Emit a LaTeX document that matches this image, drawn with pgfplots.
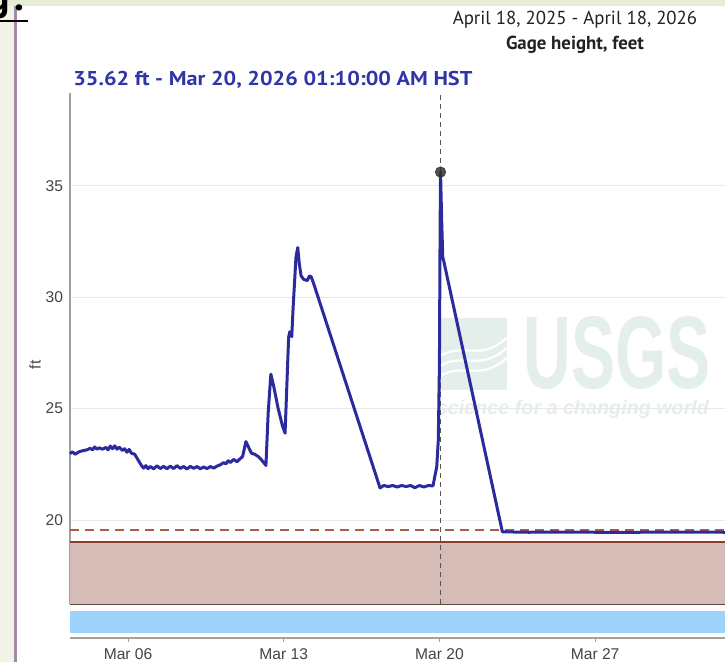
\documentclass[border=0pt]{standalone}
\usepackage{pgfplots}
\pgfplotsset{compat=1.18}
\usepackage{graphicx}
\usepackage{fontspec}
\setmainfont{PT Sans}
\newfontfamily\tickfont{Liberation Sans}
\definecolor{lineblue}{HTML}{2B2B9E}
\definecolor{titleblue}{HTML}{2E35A6}
\definecolor{brownfill}{HTML}{D6BCB7}
\definecolor{brownline}{HTML}{8E3B2C}
\definecolor{darkbrown}{HTML}{5E4842}
\definecolor{dashbrown}{HTML}{B05A48}
\definecolor{barblue}{HTML}{9ED3FB}
\definecolor{axisgray}{HTML}{A0A0A0}
\definecolor{gridgray}{HTML}{E8E8E8}
\definecolor{ticktext}{HTML}{444444}
\definecolor{vdash}{HTML}{555555}
\definecolor{markgray}{HTML}{333333}
\definecolor{leftgreen}{HTML}{F1F3E6}
\definecolor{topgreen}{HTML}{E6EDD5}
\definecolor{purpleline}{HTML}{A38AAA}
\definecolor{wm}{HTML}{E4EEEA}
\definecolor{hdr}{HTML}{222222}

\pgfplotstableread{
x y
3.39 22.98
3.50 23.06
3.62 22.95
3.75 23.04
3.85 23.08
4.00 23.12
4.15 23.15
4.30 23.22
4.40 23.15
4.50 23.28
4.60 23.18
4.70 23.24
4.85 23.18
5.00 23.26
5.10 23.15
5.20 23.32
5.30 23.20
5.40 23.33
5.50 23.18
5.60 23.27
5.75 23.12
5.85 23.20
5.95 23.04
6.05 23.17
6.15 23.00
6.30 22.95
6.45 22.70
6.60 22.45
6.70 22.33
6.80 22.44
6.90 22.30
7.00 22.40
7.15 22.30
7.30 22.43
7.45 22.31
7.60 22.41
7.75 22.30
7.90 22.42
8.05 22.31
8.20 22.44
8.35 22.32
8.50 22.40
8.65 22.29
8.80 22.41
8.95 22.32
9.10 22.40
9.25 22.30
9.40 22.38
9.55 22.31
9.70 22.40
9.85 22.33
10.00 22.42
10.15 22.48
10.30 22.58
10.40 22.52
10.50 22.66
10.60 22.58
10.75 22.72
10.90 22.62
11.05 22.76
11.15 22.85
11.30 23.52
11.45 23.20
11.55 23.00
11.70 22.95
11.85 22.85
12.00 22.70
12.20 22.45
12.30 24.80
12.42 26.55
12.55 26.00
12.75 25.00
12.95 24.20
13.06 23.90
13.12 25.50
13.22 28.20
13.27 28.45
13.36 28.23
13.42 29.50
13.55 31.80
13.63 32.23
13.70 31.50
13.78 30.96
13.90 30.80
14.06 30.75
14.15 30.95
14.23 30.93
14.35 30.60
17.33 21.44
17.50 21.55
17.70 21.50
17.90 21.55
18.10 21.48
18.30 21.55
18.50 21.50
18.70 21.55
18.90 21.45
19.10 21.55
19.30 21.48
19.50 21.55
19.71 21.53
19.88 22.40
19.95 23.60
20.00 27.00
20.03 33.00
20.05 35.62
20.10 33.50
20.15 31.80
20.20 31.60
22.83 19.47
24.00 19.45
26.00 19.46
28.00 19.44
30.00 19.46
32.84 19.45
}\gagedata

\begin{document}
\begin{tikzpicture}
\useasboundingbox (0,0) rectangle (362.5pt,331pt);
\clip (0,0) rectangle (362.5pt,331pt);
\fill[white] (0,0) rectangle (362.5pt,331pt);
\fill[leftgreen] (0,0) rectangle (7pt,331pt);
\fill[topgreen] (0,328pt) rectangle (362.5pt,331pt);
\draw[purpleline, line width=1.2pt] (7.75pt,0) -- (7.75pt,328pt);
\node[anchor=base east, font=\bfseries\fontsize{20}{20}\selectfont, inner sep=0] at (12.5pt,325.5pt) {g\hspace{2.5pt}.};
\draw[line width=1pt] (0,320.5pt) -- (14pt,320.5pt);

% watermark
\fill[wm] (220pt,136pt) rectangle (253.3pt,172pt);
\foreach \o in {0,5,10}{
  \draw[white, line width=1.1pt] (220pt,143pt+\o pt) .. controls (232pt,150pt+\o pt) and (240pt,140pt+\o pt) .. (253.3pt,152pt+\o pt);
}
\node[anchor=south west, inner sep=0, text=wm] at (261.5pt,136pt) {\resizebox{93.5pt}{36pt}{\tickfont\bfseries USGS}};
\node[anchor=west, inner sep=0, text=wm] at (218.3pt,126.5pt) {\resizebox{136pt}{!}{\tickfont\bfseries\itshape science for a changing world}};

% texts
\node[anchor=west, font=\bfseries\fontsize{10}{12}\selectfont, text=titleblue, inner sep=0] at (36.5pt,291pt) {\resizebox{199.5pt}{\height}{35.62 ft - Mar 20, 2026 01:10:00 AM HST}};
\node[font=\fontsize{9.4}{11}\selectfont, text=hdr, inner sep=0] at (287.5pt,321pt) {April 18, 2025 - April 18, 2026};
\node[font=\bfseries\fontsize{9.4}{11}\selectfont, text=hdr, inner sep=0] at (287.5pt,308.5pt) {Gage height, feet};
\node[rotate=90, font=\tickfont\fontsize{7.8}{9}\selectfont, text=ticktext, inner sep=0] at (17.5pt,148.5pt) {ft};

\begin{axis}[
  at={(35pt,29pt)}, anchor=south west,
  scale only axis, width=327.5pt, height=255.5pt,
  xmin=3.39, xmax=32.84, ymin=16.23, ymax=39.17,
  axis x line=none,
  axis y line*=left,
  y axis line style={draw=axisgray, line width=0.9pt},
  ytick={20,25,30,35},
  ymajorgrids, grid style={draw=gridgray, line width=0.5pt},
  major tick length=0pt,
  yticklabel style={font=\tickfont\fontsize{7.8}{9}\selectfont, text=ticktext},
  /pgf/number format/assume math mode=true,
  clip=false,
]
\addplot[draw=none, fill=brownfill] coordinates {(3.39,16.23) (32.84,16.23) (32.84,19.0) (3.39,19.0)} -- cycle;
\addplot[darkbrown, line width=0.8pt] coordinates {(3.39,16.2) (32.84,16.2)};
\addplot[brownline, line width=1pt] coordinates {(3.39,19.0) (32.84,19.0)};
\addplot[dashbrown, line width=1pt, dash pattern=on 4.5pt off 3pt] coordinates {(3.39,19.55) (32.84,19.55)};
\addplot[vdash, line width=0.5pt, dash pattern=on 2.5pt off 2pt] coordinates {(20.05,16.23) (20.05,39.17)};
\addplot[lineblue, line width=1.5pt, line join=round] table[x=x,y=y] {\gagedata};
\addplot[only marks, mark=*, mark size=2.6pt, mark options={fill=markgray, draw=markgray, fill opacity=0.85, draw opacity=0.85}] coordinates {(20.05,35.62)};
\end{axis}

\begin{axis}[
  at={(35pt,12pt)}, anchor=south west,
  scale only axis, width=327.5pt, height=13.5pt,
  xmin=3.39, xmax=32.84, ymin=0, ymax=27,
  axis y line=none, axis x line*=bottom,
  x axis line style={draw=axisgray, line width=0.9pt},
  xtick={6,13,20,27}, xticklabels={Mar 06, Mar 13, Mar 20, Mar 27},
  tick align=outside, major tick length=2pt,
  xtick style={draw=axisgray, line width=0.5pt},
  xticklabel style={font=\tickfont\fontsize{7.8}{9}\selectfont, text=ticktext},
  clip=false,
]
\addplot[draw=none, fill=barblue] coordinates {(3.39,5) (32.84,5) (32.84,27) (3.39,27)} -- cycle;
\end{axis}
\end{tikzpicture}
\end{document}
